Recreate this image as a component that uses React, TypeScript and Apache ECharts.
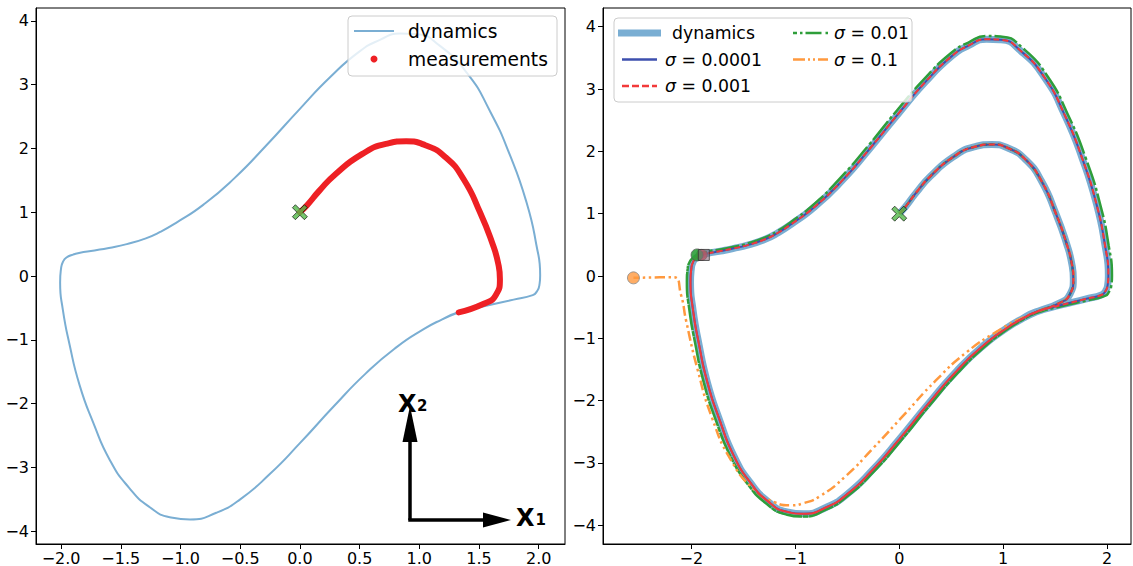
import React, { useEffect, useRef } from "react";
import * as echarts from "echarts";

// ---------- data ----------
// transient from the initial state (0,1) until it joins the limit cycle
const transientX = [0.0, 0.06, 0.16, 0.30, 0.52, 0.72, 0.89, 1.05, 1.22, 1.37, 1.51, 1.61, 1.66, 1.675, 1.64, 1.54, 1.33];
const transientY = [1.0, 1.11, 1.33, 1.60, 1.91, 2.07, 2.11, 2.05, 1.86, 1.52, 0.99, 0.52, 0.20, -0.05, -0.30, -0.435, -0.57];
// limit cycle: lower arc and left side up to the left corner
const lowerX = [1.18, 1.04, 0.81, 0.55, 0.28, 0.0, -0.25, -0.50, -0.70, -0.92, -1.09, -1.26, -1.43, -1.59, -1.73, -1.845, -1.93, -1.985, -2.008, -2.0, -1.985, -1.955, -1.90];
const lowerY = [-0.69, -0.83, -1.115, -1.53, -2.05, -2.62, -3.10, -3.50, -3.71, -3.815, -3.78, -3.62, -3.32, -2.89, -2.30, -1.71, -1.065, -0.53, -0.10, 0.12, 0.22, 0.29, 0.335];
// limit cycle: upper arc and right side back to the junction
const upperX = [-1.85, -1.72, -1.60, -1.45, -1.29, -1.17, -1.04, -0.81, -0.55, -0.28, 0.0, 0.25, 0.50, 0.67, 0.84, 0.98, 1.17, 1.40, 1.59, 1.76, 1.90, 1.98, 2.012, 2.005, 1.985, 1.95, 1.79, 1.56, 1.31];
const upperY = [0.36, 0.40, 0.44, 0.50, 0.59, 0.69, 0.83, 1.115, 1.53, 2.05, 2.62, 3.11, 3.52, 3.70, 3.80, 3.79, 3.61, 3.18, 2.59, 1.89, 1.14, 0.49, 0.01, -0.15, -0.24, -0.30, -0.37, -0.465, -0.58];
// sigma = 0.01 estimate: hugging the outer edge of the cycle
const greenLowerX = [1.18, 1.04, 0.815, 0.56, 0.29, 0.01, -0.245, -0.50, -0.705, -0.925, -1.10, -1.28, -1.455, -1.62, -1.765, -1.88, -1.965, -2.02, -2.043, -2.035, -2.018, -1.985, -1.945];
const greenLowerY = [-0.71, -0.855, -1.145, -1.56, -2.08, -2.655, -3.14, -3.535, -3.75, -3.86, -3.82, -3.65, -3.345, -2.905, -2.31, -1.71, -1.065, -0.53, -0.10, 0.12, 0.22, 0.29, 0.338];
const greenUpperX = [-1.865, -1.725, -1.60, -1.45, -1.295, -1.175, -1.05, -0.825, -0.57, -0.30, -0.02, 0.235, 0.49, 0.67, 0.845, 0.99, 1.19, 1.425, 1.62, 1.795, 1.935, 2.015, 2.047, 2.04, 2.018, 1.98, 1.80, 1.56, 1.31];
const greenUpperY = [0.385, 0.425, 0.465, 0.525, 0.615, 0.715, 0.855, 1.145, 1.565, 2.085, 2.66, 3.15, 3.565, 3.75, 3.85, 3.84, 3.655, 3.21, 2.60, 1.89, 1.14, 0.49, 0.01, -0.155, -0.255, -0.32, -0.395, -0.485, -0.60];
// sigma = 0.1 estimate after the transient (lower arc, left side, then the jump)
const orangeX = [1.20, 0.95, 0.65, 0.35, 0.05, -0.25, -0.52, -0.76, -0.92, -1.05, -1.20, -1.40, -1.62, -1.80, -1.94, -2.05, -2.10, -2.17, -2.557];
const orangeY = [-0.66, -0.88, -1.22, -1.68, -2.22, -2.76, -3.22, -3.53, -3.645, -3.68, -3.63, -3.42, -2.95, -2.28, -1.50, -0.72, -0.30, -0.02, -0.03];
// markers
const startPoint = [0, 1];
const endPointsGreen = [[-1.945, 0.338]];
const endPointsRed = [[-1.90, 0.338]];
const endPointSquare = [[-1.88, 0.338]];
const endPointOrange = [[-2.557, -0.03]];
// ticks
const leftXTicks = [-2.0, -1.5, -1.0, -0.5, 0.0, 0.5, 1.0, 1.5, 2.0];
const leftYTicks = [-4, -3, -2, -1, 0, 1, 2, 3, 4];
const rightXTicks = [-2, -1, 0, 1, 2];
const rightYTicks = [-4, -3, -2, -1, 0, 1, 2, 3, 4];

const zip = (xs: number[], ys: number[]) => xs.map((x, i) => [x, ys[i]]);
const transientPath = zip(transientX, transientY);
const lowerPath = zip(lowerX, lowerY);
const upperPath = zip(upperX, upperY);
const dynamicsPath = [...transientPath, ...lowerPath, ...upperPath, ...lowerPath];
const greenPath = [...transientPath, ...zip(greenLowerX, greenLowerY), ...zip(greenUpperX, greenUpperY), ...zip(greenLowerX, greenLowerY)];
const orangePath = [...transientPath, ...zip(orangeX, orangeY)];

const FONT = "DejaVu Sans";
const minus = (s: string) => s.replace("-", "\u2212");

const X_MARK = "path://M2,0L5,3L8,0L10,2L7,5L10,8L8,10L5,7L2,10L0,8L3,5L0,2Z";

const DYN = "#7aaed3";
const BLUE = "#3d4fae";
const RED = "#f23a3a";
const GREEN = "#2e9e3a";
const ORANGE = "#ff993e";
const SMOOTH = 0.55;

function axis(gridIndex: number, min: number, max: number, ticks: number[], fmt: (v: number) => string, margin: number) {
  return {
    type: "value",
    gridIndex,
    min,
    max,
    axisLine: { show: true, onZero: false, lineStyle: { color: "#000", width: 1 } },
    axisTick: { show: true, inside: false, length: 5, customValues: ticks, lineStyle: { color: "#000", width: 1 } },
    splitLine: { show: false },
    axisLabel: { customValues: ticks, formatter: fmt, color: "#000", fontSize: 16, fontFamily: FONT, margin },
  };
}

export default function App() {
  const ref = useRef<HTMLDivElement>(null);
  useEffect(() => {
    if (!ref.current) return;
    const chart = echarts.init(ref.current, undefined, { renderer: "svg" });
    const legendFont = { fontSize: 18.67, fontFamily: FONT, fill: "#000" };
    const RF = 17.3;
    const sig = (val: string, x: number, y: number) => ({
      type: "text",
      style: {
        x, y, text: "{i|σ}{n| = " + val + "}", verticalAlign: "middle", align: "left",
        rich: {
          i: { fontStyle: "italic", fontSize: RF, fontFamily: FONT, fill: "#000" },
          n: { fontSize: RF, fontFamily: FONT, fill: "#000" },
        },
      },
    });
    const lineS = (data: number[][], xi: number, style: any) => ({
      type: "line", xAxisIndex: xi, yAxisIndex: xi, data, showSymbol: false, smooth: SMOOTH, lineStyle: style,
    });
    const option: any = {
      animation: false,
      backgroundColor: "#fff",
      grid: [
        { left: 36, top: 8, width: 529, height: 540, show: true, borderColor: "#000", borderWidth: 1, backgroundColor: "transparent" },
        { left: 603, top: 8, width: 528, height: 540, show: true, borderColor: "#000", borderWidth: 1, backgroundColor: "transparent" },
      ],
      xAxis: [
        axis(0, -2.21, 2.22, leftXTicks, (v) => minus(v.toFixed(1)), 6),
        axis(1, -2.85, 2.23, rightXTicks, (v) => minus(String(Math.round(v))), 6),
      ],
      yAxis: [
        axis(0, -4.2, 4.2, leftYTicks, (v) => minus(String(Math.round(v))), 7),
        axis(1, -4.3, 4.3, rightYTicks, (v) => minus(String(Math.round(v))), 7),
      ],
      series: [
        // left panel
        lineS(dynamicsPath, 0, { color: DYN, width: 2 }),
        lineS(transientPath, 0, { color: "#ee2024", width: 6, cap: "round", join: "round" }),
        { type: "scatter", xAxisIndex: 0, yAxisIndex: 0, data: [startPoint], symbol: X_MARK, symbolSize: 15, itemStyle: { color: "#52b848", borderColor: "#000", borderWidth: 0.8 }, z: 5 },
        // right panel
        lineS(dynamicsPath, 1, { color: DYN, width: 7 }),
        lineS(greenPath, 1, { color: GREEN, width: 2.5, type: [24, 3, 3, 3] }),
        lineS(orangePath, 1, { color: ORANGE, width: 2.5, type: [10, 3.5, 2.5, 3.5, 2.5, 3.5] }),
        lineS(dynamicsPath, 1, { color: BLUE, width: 2 }),
        lineS(dynamicsPath, 1, { color: RED, width: 2, type: [6, 3] }),
        { type: "scatter", xAxisIndex: 1, yAxisIndex: 1, data: endPointsRed, symbol: "circle", symbolSize: 11, itemStyle: { color: RED, borderColor: "#555", borderWidth: 0.8 }, z: 4 },
        { type: "scatter", xAxisIndex: 1, yAxisIndex: 1, data: endPointsGreen, symbol: "circle", symbolSize: 12, itemStyle: { color: GREEN, borderColor: "#555", borderWidth: 0.8, opacity: 0.9 }, z: 4 },
        { type: "scatter", xAxisIndex: 1, yAxisIndex: 1, data: endPointSquare, symbol: "rect", symbolSize: 11, itemStyle: { color: "rgba(140,110,130,0.75)", borderColor: "#333", borderWidth: 1 }, z: 5 },
        { type: "scatter", xAxisIndex: 1, yAxisIndex: 1, data: endPointOrange, symbol: "circle", symbolSize: 12, itemStyle: { color: ORANGE, borderColor: "#888", borderWidth: 1 }, z: 5 },
        { type: "scatter", xAxisIndex: 1, yAxisIndex: 1, data: [startPoint], symbol: X_MARK, symbolSize: 15, itemStyle: { color: "#52b848", borderColor: "#000", borderWidth: 0.8 }, z: 5 },
      ],
      graphic: [
        // left legend
        { type: "rect", shape: { x: 348, y: 16, width: 209, height: 60, r: 4 }, style: { fill: "rgba(255,255,255,0.8)", stroke: "#cccccc", lineWidth: 1 }, z: 100 },
        { type: "line", shape: { x1: 354, y1: 31, x2: 394, y2: 31 }, style: { stroke: DYN, lineWidth: 2 }, z: 101 },
        { type: "text", style: { x: 408, y: 31, text: "dynamics", verticalAlign: "middle", align: "left", ...legendFont }, z: 101 },
        { type: "circle", shape: { cx: 374, cy: 59, r: 3.5 }, style: { fill: "#ee2024" }, z: 101 },
        { type: "text", style: { x: 408, y: 59, text: "measurements", verticalAlign: "middle", align: "left", ...legendFont }, z: 101 },
        // right legend
        { type: "rect", shape: { x: 614, y: 18, width: 298, height: 84, r: 4 }, style: { fill: "rgba(255,255,255,0.8)", stroke: "#cccccc", lineWidth: 1 }, z: 100 },
        { type: "line", shape: { x1: 618, y1: 33, x2: 661, y2: 33 }, style: { stroke: DYN, lineWidth: 7 }, z: 101 },
        { type: "text", style: { x: 672, y: 33, text: "dynamics", verticalAlign: "middle", align: "left", fontSize: RF, fontFamily: FONT, fill: "#000" }, z: 101 },
        { type: "line", shape: { x1: 622, y1: 59.5, x2: 657, y2: 59.5 }, style: { stroke: BLUE, lineWidth: 2.5 }, z: 101 },
        { ...sig("0.0001", 665, 59.5), z: 101 },
        { type: "line", shape: { x1: 622, y1: 86, x2: 657, y2: 86 }, style: { stroke: RED, lineWidth: 2.5, lineDash: [7, 3] }, z: 101 },
        { ...sig("0.001", 665, 86), z: 101 },
        { type: "line", shape: { x1: 793, y1: 33, x2: 828, y2: 33 }, style: { stroke: GREEN, lineWidth: 2.5, lineDash: [4, 3, 2.5, 3, 16, 4] }, z: 101 },
        { ...sig("0.01", 834, 33), z: 101 },
        { type: "line", shape: { x1: 793, y1: 59.5, x2: 828, y2: 59.5 }, style: { stroke: ORANGE, lineWidth: 2.5, lineDash: [12, 3, 2, 3, 2, 3] }, z: 101 },
        { ...sig("0.1", 834, 59.5), z: 101 },
        // axes arrows in the left panel
        { type: "line", shape: { x1: 410, y1: 520, x2: 410, y2: 441 }, style: { stroke: "#000", lineWidth: 3.5 }, z: 50 },
        { type: "polygon", shape: { points: [[402.5, 442], [417.5, 442], [410, 406]] }, style: { fill: "#000" }, z: 50 },
        { type: "line", shape: { x1: 408.25, y1: 520, x2: 484, y2: 520 }, style: { stroke: "#000", lineWidth: 3.5 }, z: 50 },
        { type: "polygon", shape: { points: [[483, 512.5], [483, 527.5], [511, 520]] }, style: { fill: "#000" }, z: 50 },
        { type: "text", style: { x: 398, y: 404, text: "X", fontSize: 24, fontWeight: "bold", fontFamily: FONT, fill: "#000", verticalAlign: "middle", align: "left" }, z: 50 },
        { type: "text", style: { x: 417, y: 405.5, text: "2", fontSize: 15, fontWeight: "bold", fontFamily: FONT, fill: "#000", verticalAlign: "middle", align: "left" }, z: 50 },
        { type: "text", style: { x: 516, y: 518, text: "X", fontSize: 24, fontWeight: "bold", fontFamily: FONT, fill: "#000", verticalAlign: "middle", align: "left" }, z: 50 },
        { type: "text", style: { x: 535.5, y: 520, text: "1", fontSize: 15, fontWeight: "bold", fontFamily: FONT, fill: "#000", verticalAlign: "middle", align: "left" }, z: 50 },
      ],
    };
    chart.setOption(option);
    return () => chart.dispose();
  }, []);
  return <div ref={ref} style={{ position: "fixed", left: 0, top: 0, width: 1133, height: 566, background: "#fff" }} />;
}
